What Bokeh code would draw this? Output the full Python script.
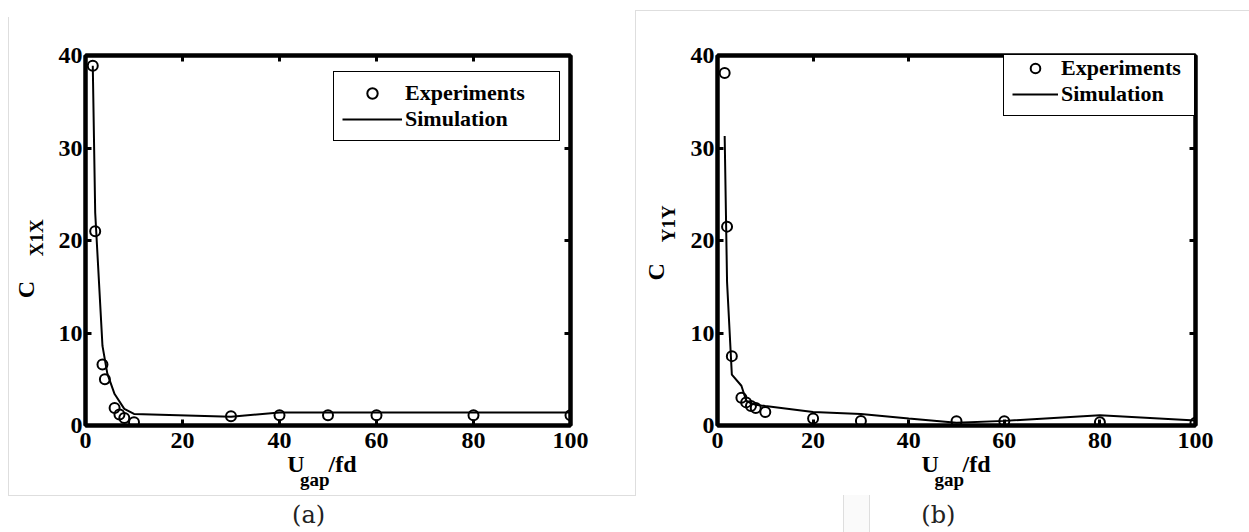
import math
from bokeh.plotting import figure
from bokeh.models import Range1d, LinearAxis, Legend, LegendItem, FixedTicker
from bokeh.layouts import row
from bokeh.embed import file_html
from bokeh.resources import INLINE

# ---------------- data ----------------
x_ticks = [0, 20, 40, 60, 80, 100]
y_ticks = [0, 10, 20, 30, 40]

# panel (a): C_X1X
x_exp_a = [1.5, 2, 3.5, 4, 6, 7, 8, 10, 30, 40, 50, 60, 80, 100]
y_exp_a = [38.9, 21.0, 6.6, 5.0, 1.9, 1.2, 0.8, 0.36, 1.0, 1.1, 1.1, 1.1, 1.1, 1.1]
x_sim_a = [1.5, 2, 3.5, 4.5, 6, 8, 10, 30, 40, 50, 60, 80, 100]
y_sim_a = [38.9, 23.0, 8.6, 5.6, 3.4, 1.8, 1.25, 0.95, 1.4, 1.4, 1.4, 1.4, 1.4]

# panel (b): C_Y1Y
x_exp_b = [1.5, 2, 3, 5, 6, 7, 8, 10, 20, 30, 50, 60, 80, 100]
y_exp_b = [38.1, 21.5, 7.5, 3.0, 2.5, 2.1, 1.9, 1.45, 0.75, 0.5, 0.45, 0.45, 0.35, 0.3]
x_sim_b = [1.5, 2, 3, 5, 6, 7, 8, 10, 20, 30, 40, 50, 60, 80, 100]
y_sim_b = [31.3, 15.5, 5.5, 4.3, 2.7, 2.4, 2.25, 2.1, 1.45, 1.25, 0.75, 0.3, 0.5, 1.1, 0.55]

legend_labels = ["Experiments", "Simulation"]
x_title = ["U", "gap", "/fd"]
y_title_a = ["C", "X1X"]
y_title_b = ["C", "Y1Y"]
captions = ["(a)", "(b)"]

FONT = "Liberation Serif"


def style_axis(ax, show_labels=True):
    ax.axis_line_width = 4
    ax.axis_line_color = "black"
    ax.major_tick_in = 6
    ax.major_tick_out = 0
    ax.major_tick_line_width = 3
    ax.major_tick_line_color = "black"
    ax.minor_tick_line_color = None
    ax.major_label_text_font = FONT
    ax.major_label_text_font_style = "bold"
    ax.major_label_text_font_size = "24px"
    ax.major_label_text_color = "black" if show_labels else None


def text_axis(p, side, pos, texts, size, standoff, orient=None, font=FONT,
              style="bold", color="black"):
    """An axis that only carries text labels at given positions (no line, no ticks)."""
    ax = LinearAxis(ticker=FixedTicker(ticks=pos),
                    major_label_overrides=dict(zip(pos, texts)))
    ax.axis_line_color = None
    ax.major_tick_line_color = None
    ax.minor_tick_line_color = None
    ax.major_tick_in = 0
    ax.major_tick_out = 0
    ax.minor_tick_in = 0
    ax.minor_tick_out = 0
    ax.major_label_text_font = font
    ax.major_label_text_font_style = style
    ax.major_label_text_font_size = size
    ax.major_label_text_color = color
    ax.major_label_standoff = standoff
    if orient is not None:
        ax.major_label_orientation = orient
    p.add_layout(ax, side)
    return ax


def make_panel(width, bl, br, bt, bb, xe, ye, xs, ys, ytitle, cfg):
    p = figure(width=width, height=532, output_backend="svg", toolbar_location=None,
               x_range=Range1d(0, 100), y_range=Range1d(0, 40),
               min_border_left=bl, min_border_right=br,
               min_border_top=bt, min_border_bottom=bb,
               background_fill_color="white", border_fill_color=None)
    p.grid.visible = False
    p.outline_line_color = "black"
    p.outline_line_width = 4
    p.xaxis.ticker = FixedTicker(ticks=x_ticks)
    p.yaxis.ticker = FixedTicker(ticks=y_ticks)
    for ax in p.xaxis + p.yaxis:
        style_axis(ax)
    p.xaxis.major_label_standoff = 7
    p.yaxis.major_label_standoff = 3

    top = LinearAxis(ticker=FixedTicker(ticks=x_ticks))
    right = LinearAxis(ticker=FixedTicker(ticks=y_ticks))
    style_axis(top, False)
    style_axis(right, False)
    p.add_layout(top, "above")
    p.add_layout(right, "right")

    r_sim = p.line(xs, ys, line_color="black", line_width=2)
    r_exp = p.scatter(xe, ye, marker="circle", size=10, line_color="black",
                      line_width=2, fill_alpha=0)

    leg = Legend(items=[LegendItem(label=legend_labels[0], renderers=[r_exp]),
                        LegendItem(label=legend_labels[1], renderers=[r_sim])],
                 location=cfg["leg_loc"], margin=0, padding=8, spacing=0,
                 glyph_width=cfg["leg_gw"], glyph_height=cfg["leg_lh"],
                 label_height=cfg["leg_lh"], label_width=cfg["leg_lw"],
                 label_standoff=3,
                 label_text_font=FONT, label_text_font_style="bold",
                 label_text_font_size="22px", label_text_color="black",
                 border_line_color="black", border_line_width=1.5,
                 border_line_alpha=1,
                 background_fill_color="white", background_fill_alpha=1)
    p.add_layout(leg, "center")

    # y title: subscript (nearer the axis), then "C"
    text_axis(p, "left", [cfg["ysub"]], [ytitle[1]], "19px", cfg["ysub_so"], "vertical")
    text_axis(p, "left", [cfg["yc"]], [ytitle[0]], "24px", cfg["yc_so"], "vertical")
    # x title: "U" and "/fd" on one line, "gap" lowered
    text_axis(p, "below", [cfg["xu"], cfg["xfd"]], [x_title[0], x_title[2]], "24px",
              cfg["xu_so"])
    text_axis(p, "below", [cfg["xgap"]], [x_title[1]], "19px", cfg["xgap_so"])
    # caption
    text_axis(p, "below", [cfg["cap"]], [cfg["caption"]], "24px", cfg["cap_so"],
              font="DejaVu Serif", style="normal", color="#222222")
    return p


cfg_a = dict(leg_loc=(248, 284), leg_gw=60, leg_lw=146, leg_lh=26,
             ysub=20.3, ysub_so=8, yc=14.7, yc_so=-16,
             xu=43.4, xfd=53.0, xgap=47.3, xu_so=0, xgap_so=-11,
             cap=46.0, caption=captions[0], cap_so=8)
cfg_b = dict(leg_loc=(286, 309), leg_gw=46, leg_lw=125, leg_lh=24,
             ysub=21.8, ysub_so=8, yc=16.6, yc_so=-14,
             xu=44.5, xfd=54.2, xgap=48.5, xu_so=0, xgap_so=-11,
             cap=46.2, caption=captions[1], cap_so=8)

# panel (a): canvas 0..630, frame 85..570 x 55..425
pa = make_panel(630, 85, 60, 55, 107, x_exp_a, y_exp_a, x_sim_a, y_sim_a, y_title_a, cfg_a)
# panel (b): canvas 630..1249, frame 717..1195 x 46..427
pb = make_panel(619, 87, 54, 46, 105, x_exp_b, y_exp_b, x_sim_b, y_sim_b, y_title_b, cfg_b)

# faint frame lines of the original page (drawn as a CSS background behind both plots)
G = "linear-gradient(#dedede,#dedede)"
page_bg = ", ".join([
    f"{G} 8px 17px / 1px 478px no-repeat",      # left panel, left edge
    f"{G} 8px 495px / 628px 1px no-repeat",     # left panel, bottom edge
    f"{G} 635px 10px / 1px 485px no-repeat",    # right panel, left edge
    f"{G} 635px 10px / 614px 1px no-repeat",    # right panel, top edge
    f"{G} 843px 495px / 1px 37px no-repeat",    # small box
    f"{G} 869px 495px / 1px 37px no-repeat",
    "linear-gradient(#fafafa,#fafafa) 844px 495px / 25px 37px no-repeat",
    "white",
])

layout = row(pa, pb, spacing=0, styles={"background": page_bg})
open("out.html", "w").write(file_html(layout, INLINE))
